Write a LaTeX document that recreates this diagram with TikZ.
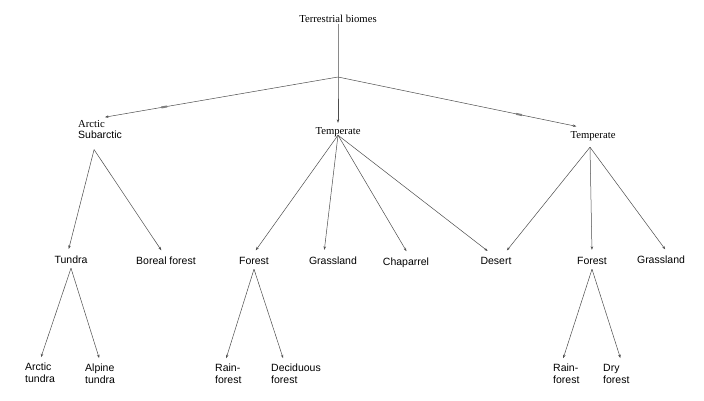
\documentclass[tikz,border=0pt]{standalone}
\usepackage{fontspec}
\setmainfont{Liberation Serif}
\setsansfont{Liberation Sans}
\usetikzlibrary{arrows.meta}

\begin{document}
\begin{tikzpicture}[x=1pt, y=-1pt, >={Stealth[length=3.5pt,width=2.5pt]},
    link/.style={->, draw=black!70, line width=0.5pt, shorten >=3pt},
    head/.style={font=\rmfamily\fontsize{10.7}{12}\selectfont, inner sep=1pt, text depth=0pt},
    lbl/.style={font=\sffamily\fontsize{10.5}{12}\selectfont, inner sep=3pt, text height=8pt, text depth=2pt},
    leaf/.style={font=\sffamily\fontsize{10.5}{12}\selectfont, inner sep=3pt, align=left, anchor=north west},
    blip/.style={sloped, fill=black!50, inner sep=0pt, minimum width=6pt, minimum height=2pt}]
    \useasboundingbox (0,0) rectangle (704,400);
    % top levels
    \node [head, anchor=base] (terr) at (338,22.5) {Terrestrial biomes};
    \node [head, anchor=base] (tempm) at (338,134) {Temperate};
    \node [head, anchor=base] (tempr) at (593,138) {Temperate};
    \node [leaf, inner sep=2pt] (arc) at (76,118) {{\rmfamily\fontsize{10.7}{12}\selectfont Arctic}\\[-1pt]Subarctic};
    % second row
    \node [lbl, anchor=base] (tundra) at (71,263) {Tundra};
    \node [lbl, anchor=base] (boreal) at (166,264) {Boreal forest};
    \node [lbl, anchor=base] (forestm) at (254,264) {Forest};
    \node [lbl, anchor=base] (grassm) at (333,264) {Grassland};
    \node [lbl, anchor=base] (chap) at (406,265) {Chaparrel};
    \node [lbl, anchor=base] (desert) at (496,264) {Desert};
    \node [lbl, anchor=base] (forestr) at (592,264) {Forest};
    \node [lbl, anchor=base] (grassr) at (661,263) {Grassland};
    % leaves
    \node [leaf] (arctun) at (22,360) {Arctic\\tundra};
    \node [leaf] (alptun) at (82,361) {Alpine\\tundra};
    \node [leaf] (rainm) at (212,361) {Rain-\\forest};
    \node [leaf] (decid) at (268,361) {Deciduous\\forest};
    \node [leaf] (rainr) at (550,361) {Rain-\\forest};
    \node [leaf] (dry) at (600,361) {Dry\\forest};
    \coordinate (fork) at (338,77);
    \draw [link] (terr.south) -- (fork) -- (tempm.north);
    \draw [link, shorten >=5pt] (fork) -- node[blip, pos=0.73] {} (arc.north);
    \draw [link, shorten >=17pt] (fork) -- node[blip, pos=0.71] {} (tempr.north);
    %\draw [link] (arc) -- (tundra);
    \draw [link] ([xshift=-6pt,yshift=-9pt]arc.south) -- ([xshift=-3pt]tundra.north);
    \draw [link] ([xshift=-6pt,yshift=-9pt]arc.south) -- ([xshift=-3pt]boreal.north);
    \draw [link] (tempm.south) -- (forestm.north);
    \draw [link] (tempm.south) -- ([xshift=-9pt]grassm.north);
    \draw [link] (tempm.south) -- ([xshift=2pt]chap.north);
    \draw [link] (tempm.south) -- ([xshift=-6pt]desert.north);
    \draw [link] ([xshift=-3pt,yshift=-8pt]tempr.south) -- ([xshift=9pt]desert.north);
    \draw [link] ([xshift=-3pt,yshift=-8pt]tempr.south) -- (forestr.north);
    \draw [link] ([xshift=-3pt,yshift=-8pt]tempr.south) -- ([xshift=6pt]grassr.north);
    \draw [link] (tundra.south) -- (arctun.north);
    \draw [link] (tundra.south) -- (alptun.north);
    \draw [link] (forestm.south) -- ([xshift=-3pt]rainm.north);
    \draw [link] (forestm.south) -- ([xshift=-12pt]decid.north);
    \draw [link] (forestr.south) -- ([xshift=-4pt]rainr.north);
    \draw [link] (forestr.south) -- ([xshift=5pt]dry.north);
\end{tikzpicture}
\end{document}
